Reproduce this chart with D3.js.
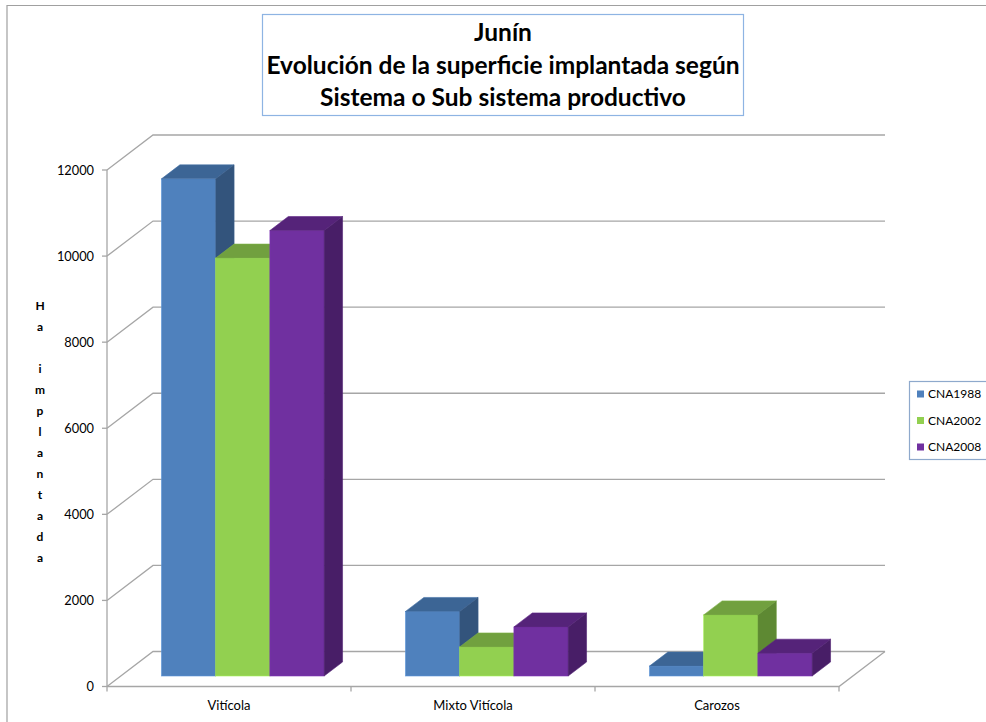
<!DOCTYPE html>
<html>
<head>
<meta charset="utf-8">
<script src="https://cdn.jsdelivr.net/npm/d3@7"></script>
<style>
  body { margin: 0; background: #fff; }
  svg { display: block; font-family: Lato, "Open Sans", sans-serif; }
</style>
</head>
<body>
<script>
// Junín: 3D clustered columns, hectares per productive system and census year
const categories = ['Vitícola', 'Mixto Vitícola', 'Carozos'];
const series = ['CNA1988', 'CNA2002', 'CNA2008'];
const cna1988 = [11550, 1500, 230];
const cna2002 = [9710, 675, 1420];
const cna2008 = [10350, 1140, 530];
const yTicks = [0, 2000, 4000, 6000, 8000, 10000, 12000];
const titleLines = ['Junín', 'Evolución de la superficie implantada según', 'Sistema o Sub sistema productivo'];
const axisTitle = 'Ha implantada';

const values = [cna1988, cna2002, cna2008];
const frontColor = ['#4F81BD', '#92D050', '#7030A0'];
const topColor = ['#3C6595', '#71A03F', '#552379'];
const sideColor = ['#33547C', '#5E8933', '#481E67'];

const W = 986, H = 722;
const svg = d3.select('body').append('svg').attr('width', W).attr('height', H);

// outer chart border (right/bottom edges fall outside the picture)
svg.append('path')
  .attr('d', `M7,${H} L7,5.5 L${W},5.5`)
  .attr('fill', 'none').attr('stroke', '#A0A0A0').attr('stroke-width', 1.2);

// projection: front plane + depth offset
const DX = 46, DY = -35;
const x0 = d3.scaleBand().domain(categories).range([107, 839]);
const y = d3.scaleLinear().domain([0, 12000]).range([686.5, 170]);
const inner = x0.bandwidth() * 2 / 3;
const x1 = d3.scaleBand().domain(series).range([0, inner]);
const f0 = 0.30, fd = 0.40; // bar depth start / thickness as fraction of floor depth

const grid = svg.append('g').attr('stroke', '#A6A6A6').attr('stroke-width', 1.3).attr('fill', 'none');
const xl = x0.range()[0], xr = x0.range()[1];

yTicks.forEach(t => {
  const yy = y(t);
  grid.append('path').attr('d', `M${xl},${yy} L${xl + DX},${yy + DY} L${xr + DX},${yy + DY}`);
  grid.append('line').attr('x1', xl - 5).attr('x2', xl).attr('y1', yy).attr('y2', yy);
});
// floor front edge + right edge, vertical axis
grid.append('path').attr('d', `M${xl},${y(0)} L${xr},${y(0)} L${xr + DX},${y(0) + DY}`);
grid.append('line').attr('x1', xl).attr('x2', xl).attr('y1', y(12000)).attr('y2', y(0));
[...categories.map(c => x0(c)), xr].forEach(xx => {
  grid.append('line').attr('x1', xx).attr('x2', xx).attr('y1', y(0)).attr('y2', y(0) + 5);
});

// y tick labels
svg.append('g').selectAll('text').data(yTicks).join('text')
  .attr('x', 94).attr('y', d => y(d) + 4.5)
  .attr('text-anchor', 'end').attr('font-size', 12.8).attr('fill', '#000')
  .text(d => d);

// category labels
svg.append('g').selectAll('text').data(categories).join('text')
  .attr('x', d => x0(d) + x0.bandwidth() / 2).attr('y', 710)
  .attr('text-anchor', 'middle').attr('font-size', 13).attr('fill', '#000')
  .text(d => d);

// axis title, stacked letters
svg.append('g').selectAll('text').data(axisTitle.split('')).join('text')
  .attr('x', 40).attr('y', (d, i) => 310 + i * 21)
  .attr('text-anchor', 'middle').attr('font-size', 12).attr('font-weight', 'bold')
  .text(d => d);

// bars
const bx = f0 * DX, by = f0 * DY, dx = fd * DX, dy = fd * DY;
const bars = [];
categories.forEach((c, ci) => {
  series.forEach((s, si) => {
    bars.push({ c, s, si, v: values[si][ci] });
  });
});
const barG = svg.append('g');
bars.forEach(b => {
  const x = x0(b.c) + (x0.bandwidth() - inner) / 2 + x1(b.s) + bx;
  const w = x1.bandwidth();
  const yb = y(0) + by, yt = y(b.v) + by;
  const g = barG.append('g');
  g.append('rect').attr('x', x).attr('y', yt).attr('width', w).attr('height', yb - yt)
    .attr('fill', frontColor[b.si]).attr('stroke', d3.color(frontColor[b.si]).brighter(0.4)).attr('stroke-width', 0.6);
  g.append('path')
    .attr('d', `M${x},${yt} L${x + w},${yt} L${x + w + dx},${yt + dy} L${x + dx},${yt + dy} Z`)
    .attr('fill', topColor[b.si]).attr('stroke', d3.color(topColor[b.si]).brighter(0.3)).attr('stroke-width', 0.6);
  g.append('path')
    .attr('d', `M${x + w},${yt} L${x + w + dx},${yt + dy} L${x + w + dx},${yb + dy} L${x + w},${yb} Z`)
    .attr('fill', sideColor[b.si]).attr('stroke', d3.color(sideColor[b.si]).brighter(0.3)).attr('stroke-width', 0.6);
});

// title box
svg.append('rect').attr('x', 262.5).attr('y', 14.5).attr('width', 481).attr('height', 101)
  .attr('fill', '#fff').attr('stroke', '#8EB4E3').attr('stroke-width', 1.2);
svg.append('g').selectAll('text').data(titleLines).join('text')
  .attr('x', 503).attr('y', (d, i) => 41 + i * 32.5)
  .attr('text-anchor', 'middle').attr('font-size', 24.5).attr('font-weight', 'bold')
  .text(d => d);

// legend
svg.append('rect').attr('x', 909.5).attr('y', 381.5).attr('width', 90).attr('height', 78)
  .attr('fill', '#fff').attr('stroke', '#8EA9CC').attr('stroke-width', 1.2);
const leg = svg.append('g').selectAll('g').data(series).join('g')
  .attr('transform', (d, i) => `translate(917,${394 + i * 26.5})`);
leg.append('rect').attr('x', 0).attr('y', -3.5).attr('width', 7).attr('height', 7)
  .attr('fill', (d, i) => frontColor[i]);
leg.append('text').attr('x', 11).attr('y', 4.3).attr('font-size', 12).text(d => d);
</script>
</body>
</html>
